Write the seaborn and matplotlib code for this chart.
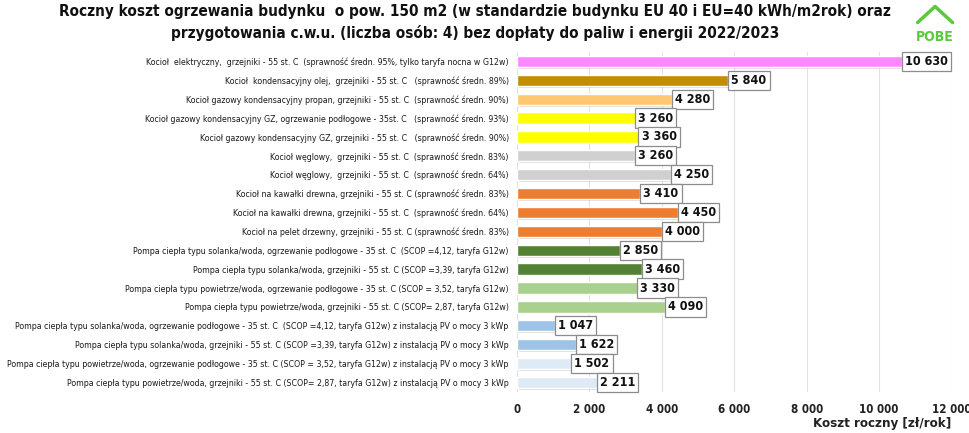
import matplotlib
matplotlib.use("Agg")
import matplotlib.pyplot as plt
import matplotlib.patheffects as pe
import seaborn as sns
import pandas as pd
from matplotlib.lines import Line2D

categories = [
    "Kocioł  elektryczny,  grzejniki - 55 st. C  (sprawność średn. 95%, tylko taryfa nocna w G12w)",
    "Kocioł  kondensacyjny olej,  grzejniki - 55 st. C   (sprawność średn. 89%)",
    "Kocioł gazowy kondensacyjny propan, grzejniki - 55 st. C  (sprawność średn. 90%)",
    "Kocioł gazowy kondensacyjny GZ, ogrzewanie podłogowe - 35st. C   (sprawność średn. 93%)",
    "Kocioł gazowy kondensacyjny GZ, grzejniki - 55 st. C   (sprawność średn. 90%)",
    "Kocioł węglowy,  grzejniki - 55 st. C  (sprawność średn. 83%)",
    "Kocioł węglowy,  grzejniki - 55 st. C  (sprawność średn. 64%)",
    "Kocioł na kawałki drewna, grzejniki - 55 st. C (sprawność średn. 83%)",
    "Kocioł na kawałki drewna, grzejniki - 55 st. C  (sprawność średn. 64%)",
    "Kocioł na pelet drzewny, grzejniki - 55 st. C (sprawność średn. 83%)",
    "Pompa ciepła typu solanka/woda, ogrzewanie podłogowe - 35 st. C  (SCOP =4,12, taryfa G12w)",
    "Pompa ciepła typu solanka/woda, grzejniki - 55 st. C (SCOP =3,39, taryfa G12w)",
    "Pompa ciepła typu powietrze/woda, ogrzewanie podłogowe - 35 st. C (SCOP = 3,52, taryfa G12w)",
    "Pompa ciepła typu powietrze/woda, grzejniki - 55 st. C (SCOP= 2,87, taryfa G12w)",
    "Pompa ciepła typu solanka/woda, ogrzewanie podłogowe - 35 st. C  (SCOP =4,12, taryfa G12w) z instalacją PV o mocy 3 kWp",
    "Pompa ciepła typu solanka/woda, grzejniki - 55 st. C (SCOP =3,39, taryfa G12w) z instalacją PV o mocy 3 kWp",
    "Pompa ciepła typu powietrze/woda, ogrzewanie podłogowe - 35 st. C (SCOP = 3,52, taryfa G12w) z instalacją PV o mocy 3 kWp",
    "Pompa ciepła typu powietrze/woda, grzejniki - 55 st. C (SCOP= 2,87, taryfa G12w) z instalacją PV o mocy 3 kWp",
]
values = [10630, 5840, 4280, 3260, 3360, 3260, 4250, 3410, 4450, 4000,
          2850, 3460, 3330, 4090, 1047, 1622, 1502, 2211]
colors = ["#FF88FF", "#BF8F00", "#FFC870", "#FFFF00", "#FFFF00", "#D0D0D0", "#D0D0D0",
          "#ED7D31", "#ED7D31", "#ED7D31", "#548235", "#548235", "#A9D18E", "#A9D18E",
          "#9DC3E6", "#9DC3E6", "#DEEBF7", "#DEEBF7"]
xticks = [0, 2000, 4000, 6000, 8000, 10000, 12000]
title = ("Roczny koszt ogrzewania budynku  o pow. 150 m2 (w standardzie budynku EU 40 i EU=40 kWh/m2rok) oraz\n"
         "przygotowania c.w.u. (liczba osób: 4) bez dopłaty do paliw i energii 2022/2023")
xlabel = "Koszt roczny [zł/rok]"

def fmt(v):
    return f"{v:,}".replace(",", " ")

sns.set_theme(style="white")
plt.rcParams["font.family"] = ["DejaVu Sans"]
plt.rcParams["font.stretch"] = "condensed"

df = pd.DataFrame({"cat": categories, "val": values})
fig = plt.figure(figsize=(9.7, 4.33), dpi=100)
ax = fig.add_axes([0.533, 0.095, 0.448, 0.785])
sns.barplot(data=df, y="cat", x="val", hue="cat", palette=colors, legend=False,
            width=0.6, ax=ax, orient="h", saturation=1)
for p in ax.patches:
    p.set_path_effects([pe.SimplePatchShadow(offset=(1.2, -1.2), alpha=0.25, shadow_rgbFace="#777777"),
                        pe.Normal()])
ax.set_xlim(0, 12000)
ax.set_ylim(17.5, -0.5)
ax.set_xticks(xticks)
ax.set_xticklabels([fmt(t) for t in xticks], fontsize=8.3, fontweight="bold", color="#222222",
                   stretch="condensed")
ax.tick_params(axis="y", labelsize=6.35, length=0, pad=6)
for lab in ax.get_yticklabels():
    lab.set_color("#1a1a1a")
    lab.set_fontstretch("condensed")
ax.tick_params(axis="x", length=0, pad=8)
ax.grid(axis="x", color="#E2E2E2", linewidth=0.8)
ax.set_axisbelow(True)
for s in ax.spines.values():
    s.set_visible(False)
ax.set_ylabel("")
ax.set_xlabel("")
for i, v in enumerate(values):
    ax.text(v + 80, i, fmt(v), va="center", ha="left", fontsize=9, fontweight="bold",
            color="#111111", stretch="condensed",
            bbox=dict(boxstyle="square,pad=0.25", fc="white", ec="#8C8C8C", lw=0.9))
fig.text(0.981, 0.022, xlabel, ha="right", va="center", fontsize=9.5, fontweight="bold",
         color="#222222", stretch="condensed")
fig.text(0.49, 0.948, title, ha="center", va="center", fontsize=11, fontweight="bold",
         color="#111111", linespacing=1.5, stretch="condensed")
# logo
fig.text(0.964, 0.915, "POBE", ha="center", va="center", fontsize=10, fontweight="bold",
         color="#5CC83C", stretch="condensed")
fig.add_artist(Line2D([0.946, 0.964, 0.982], [0.948, 0.985, 0.948], transform=fig.transFigure,
                      color="#5CC83C", lw=2.5))
fig.savefig("out.png", dpi=100)
